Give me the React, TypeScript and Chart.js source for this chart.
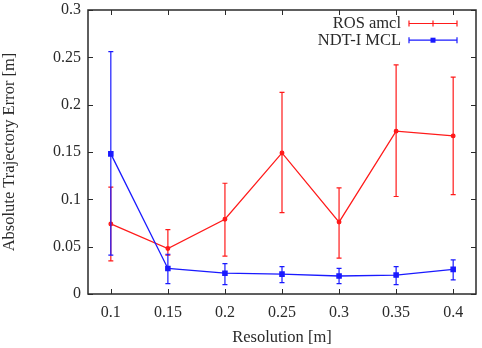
import React, { useEffect, useRef } from 'react';
import { Chart, registerables } from 'chart.js';

Chart.register(...registerables);

const resolutions = [0.1, 0.15, 0.2, 0.25, 0.3, 0.35, 0.4];
const amclMean = [0.074, 0.048, 0.079, 0.149, 0.076, 0.172, 0.167];
const amclLow = [0.035, 0.041, 0.040, 0.086, 0.038, 0.103, 0.105];
const amclHigh = [0.113, 0.068, 0.117, 0.213, 0.112, 0.242, 0.229];
const ndtMean = [0.148, 0.027, 0.022, 0.021, 0.019, 0.020, 0.026];
const ndtLow = [0.041, 0.011, 0.010, 0.012, 0.011, 0.010, 0.015];
const ndtHigh = [0.256, 0.042, 0.032, 0.029, 0.027, 0.029, 0.036];

const xTickValues = [0.1, 0.15, 0.2, 0.25, 0.3, 0.35, 0.4];
const xTickLabels = ['0.1', '0.15', '0.2', '0.25', '0.3', '0.35', '0.4'];
const yTickValues = [0, 0.05, 0.1, 0.15, 0.2, 0.25, 0.3];
const yTickLabels = ['0', '0.05', '0.1', '0.15', '0.2', '0.25', '0.3'];

const seriesNames = ['ROS amcl', 'NDT-I MCL'];
const xTitle = 'Resolution [m]';
const yTitle = 'Absolute Trajectory Error [m]';

const RED = '#ff1a1a';
const BLUE = '#1a1aff';
const INK = '#2a2a2a';
const FONT = '"Liberation Serif", "Times New Roman", serif';

const errorBarPlugin = {
  id: 'errorBars',
  afterDatasetDraw(chart: any, args: any) {
    const ds = chart.data.datasets[args.index];
    const lows: number[] = ds.errLow;
    const highs: number[] = ds.errHigh;
    if (!lows) return;
    const ctx = chart.ctx;
    const xs = chart.scales.x;
    const ys = chart.scales.y;
    ctx.save();
    ctx.strokeStyle = ds.borderColor;
    ctx.lineWidth = 1.2;
    ds.data.forEach((p: any, i: number) => {
      const x = xs.getPixelForValue(p.x);
      const yl = ys.getPixelForValue(lows[i]);
      const yh = ys.getPixelForValue(highs[i]);
      ctx.beginPath();
      ctx.moveTo(x, yl);
      ctx.lineTo(x, yh);
      ctx.moveTo(x - 2.5, yl);
      ctx.lineTo(x + 2.5, yl);
      ctx.moveTo(x - 2.5, yh);
      ctx.lineTo(x + 2.5, yh);
      ctx.stroke();
    });
    ctx.restore();
  },
};

const framePlugin = {
  id: 'frame',
  afterDraw(chart: any) {
    const { left, right, top, bottom } = chart.chartArea;
    const ctx = chart.ctx;
    const xs = chart.scales.x;
    const ys = chart.scales.y;
    ctx.save();
    ctx.strokeStyle = INK;
    ctx.lineWidth = 1.5;
    ctx.strokeRect(left, top, right - left, bottom - top);
    ctx.lineWidth = 1;
    ctx.beginPath();
    xTickValues.forEach((v) => {
      const x = Math.round(xs.getPixelForValue(v)) + 0.5;
      ctx.moveTo(x, bottom);
      ctx.lineTo(x, bottom - 5);
      ctx.moveTo(x, top);
      ctx.lineTo(x, top + 5);
    });
    yTickValues.forEach((v) => {
      const y = Math.round(ys.getPixelForValue(v)) + 0.5;
      ctx.moveTo(left, y);
      ctx.lineTo(left + 5, y);
      ctx.moveTo(right, y);
      ctx.lineTo(right - 5, y);
    });
    ctx.stroke();
    ctx.restore();
  },
};

const legendPlugin = {
  id: 'customLegend',
  afterDraw(chart: any) {
    const ctx = chart.ctx;
    const { right, top } = chart.chartArea;
    ctx.save();
    ctx.font = `16.5px ${FONT}`;
    ctx.textAlign = 'right';
    ctx.textBaseline = 'middle';
    chart.data.datasets.forEach((ds: any, i: number) => {
      const y = top + 13.5 + i * 16.7;
      const textRight = right - 75;
      ctx.fillStyle = INK;
      ctx.fillText(ds.label, textRight, y);
      const x0 = right - 67;
      const x1 = right - 19;
      ctx.strokeStyle = ds.borderColor;
      ctx.lineWidth = 1.2;
      ctx.beginPath();
      ctx.moveTo(x0, y);
      ctx.lineTo(x1, y);
      ctx.moveTo(x0, y - 3);
      ctx.lineTo(x0, y + 3);
      ctx.moveTo(x1, y - 3);
      ctx.lineTo(x1, y + 3);
      ctx.stroke();
      const xm = (x0 + x1) / 2;
      ctx.fillStyle = ds.borderColor;
      if (ds.pointStyle === 'rect') {
        ctx.fillRect(xm - 2.5, y - 2.5, 5, 5);
      } else {
        ctx.beginPath();
        ctx.moveTo(xm, y - 3);
        ctx.lineTo(xm, y + 3);
        ctx.stroke();
      }
    });
    ctx.restore();
  },
};

export default function App() {
  const canvasRef = useRef<HTMLCanvasElement | null>(null);

  useEffect(() => {
    document.body.style.margin = '0';
    const canvas = canvasRef.current;
    if (!canvas) return;
    const chart = new Chart(canvas, {
      type: 'line',
      data: {
        datasets: [
          {
            label: seriesNames[0],
            data: resolutions.map((x, i) => ({ x, y: amclMean[i] })),
            errLow: amclLow,
            errHigh: amclHigh,
            borderColor: RED,
            backgroundColor: RED,
            borderWidth: 1.3,
            pointRadius: 1.8,
            pointStyle: 'circle',
            order: 2,
            tension: 0,
          } as any,
          {
            label: seriesNames[1],
            data: resolutions.map((x, i) => ({ x, y: ndtMean[i] })),
            errLow: ndtLow,
            errHigh: ndtHigh,
            borderColor: BLUE,
            backgroundColor: BLUE,
            borderWidth: 1.3,
            pointRadius: 3,
            pointStyle: 'rect',
            order: 1,
            tension: 0,
          } as any,
        ],
      },
      options: {
        animation: false,
        responsive: false,
        maintainAspectRatio: false,
        layout: { padding: { top: 10, right: 6, left: 0, bottom: 0 } },
        plugins: {
          legend: { display: false },
          tooltip: { enabled: false },
        },
        scales: {
          x: {
            type: 'linear',
            min: 0.08,
            max: 0.42,
            afterBuildTicks: (scale: any) => {
              scale.ticks = xTickValues.map((v) => ({ value: v }));
            },
            afterFit: (scale: any) => {
              scale.height = 54;
              scale.paddingLeft = 0;
              scale.paddingRight = 0;
            },
            grid: { display: false, drawTicks: false },
            border: { display: false },
            ticks: {
              padding: 9,
              autoSkip: false,
              maxRotation: 0,
              color: INK,
              font: { family: FONT, size: 16 },
              callback: (_v: any, i: number) => xTickLabels[i],
            },
            title: {
              display: true,
              text: xTitle,
              color: INK,
              font: { family: FONT, size: 16.5 },
              padding: { top: 1.5, bottom: 0 },
            },
          },
          y: {
            type: 'linear',
            min: 0,
            max: 0.3,
            afterBuildTicks: (scale: any) => {
              scale.ticks = yTickValues.map((v) => ({ value: v }));
            },
            afterFit: (scale: any) => {
              scale.width = 88;
              scale.paddingTop = 0;
              scale.paddingBottom = 0;
            },
            grid: { display: false, drawTicks: false },
            border: { display: false },
            ticks: {
              padding: 7,
              autoSkip: false,
              color: INK,
              font: { family: FONT, size: 16 },
              callback: (_v: any, i: number) => yTickLabels[i],
            },
            title: {
              display: true,
              text: yTitle,
              color: INK,
              font: { family: FONT, size: 16.5 },
              padding: { top: 0, bottom: 0 },
            },
          },
        },
      },
      plugins: [errorBarPlugin, framePlugin, legendPlugin],
    } as any);
    return () => chart.destroy();
  }, []);

  return (
    <div style={{ width: 482, height: 348 }}>
      <canvas ref={canvasRef} width={482} height={348} style={{ display: 'block' }} />
    </div>
  );
}
